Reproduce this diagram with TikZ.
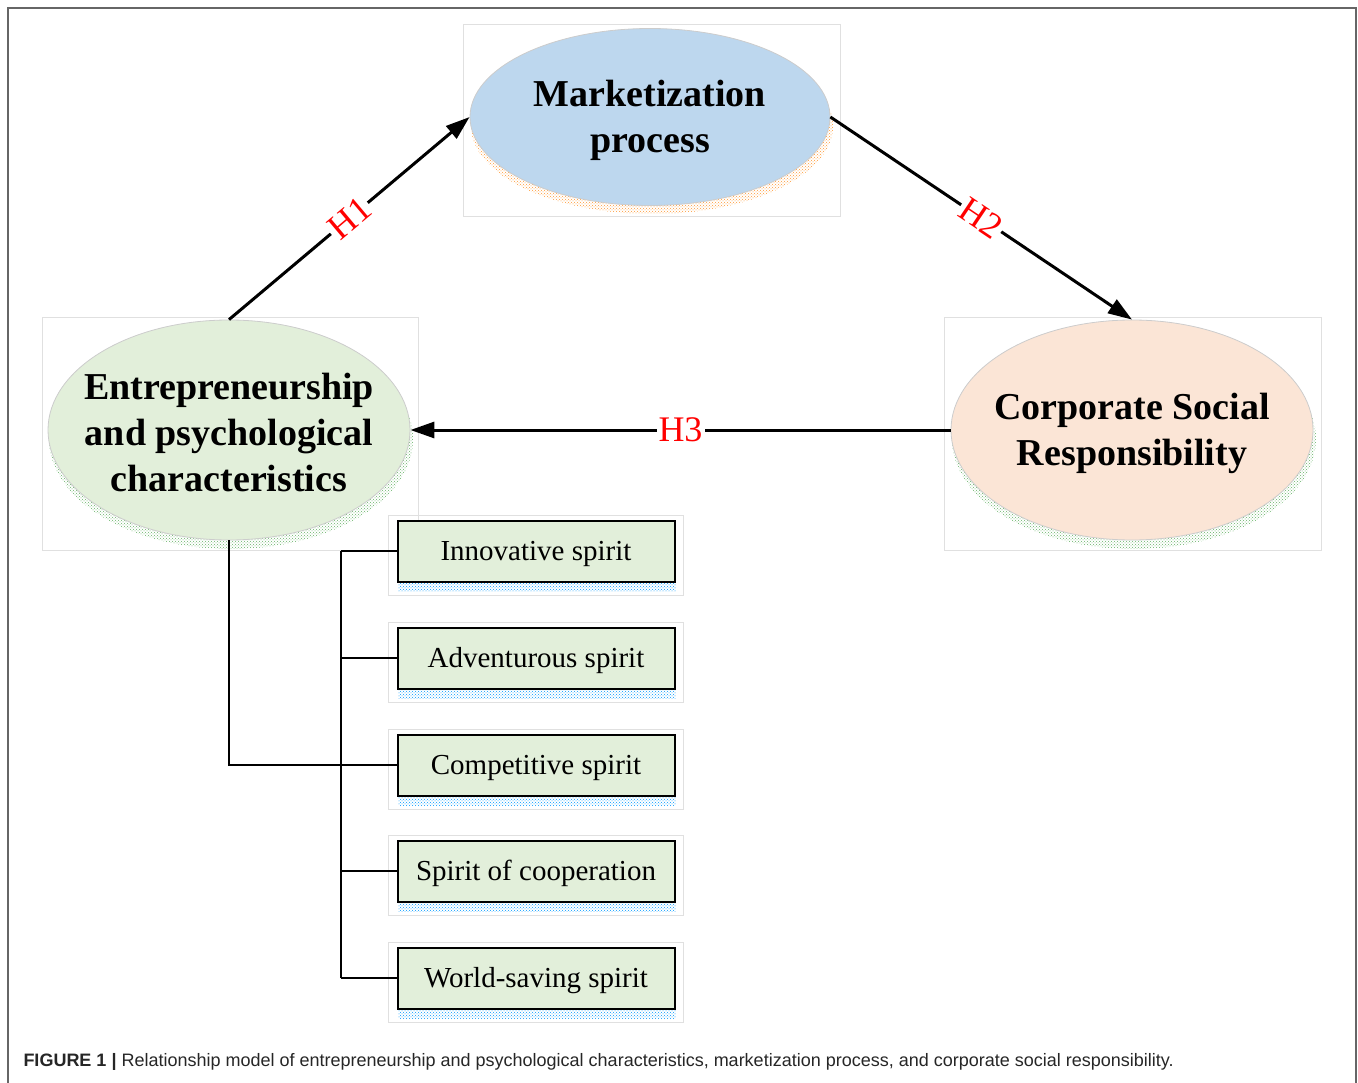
\documentclass[tikz,border=0pt]{standalone}
\usepackage{fontspec}
\setmainfont{Liberation Serif}
\newfontfamily\capfont{Liberation Sans}
\usetikzlibrary{shapes.geometric,arrows.meta,patterns}
\definecolor{mktblue}{RGB}{189,215,238}
\definecolor{entgreen}{RGB}{226,239,218}
\definecolor{csrpeach}{RGB}{251,229,214}
\definecolor{boxgreen}{RGB}{226,239,218}
\begin{document}
\begin{tikzpicture}
  [x=1pt,y={(0pt,-1pt)},line width=3pt,every node/.style={inner sep=0pt}]
  \tikzstyle{oval} = [ellipse,draw=black!20,line width=0.8pt,minimum width=362pt,minimum height=220pt]
  \tikzstyle{big} = [font=\fontsize{38}{46}\selectfont\bfseries,align=center,yshift=-3pt]
  \tikzstyle{trait} = [rectangle,draw=black,line width=2pt,fill=boxgreen,minimum width=277pt,minimum height=61pt,text height=24pt,text depth=5pt,font=\fontsize{29}{34}\selectfont]
  \tikzstyle{ghost} = [draw=black!12,line width=1pt]
  \tikzstyle{hyp} = [fill=white,text=red,font=\fontsize{36}{40}\selectfont,inner sep=2pt]
  \tikzstyle{link} = [-{Triangle[length=24pt,width=16pt]}]
  \useasboundingbox (0,0) rectangle (1358,1083);
  \draw[black!60,line width=2pt] (8,1083) -- (8,8) -- (1356,8) -- (1356,1083);
  % light frames and dotted shadows of the ovals
  \draw[ghost] (463,25) rectangle (840,217);
  \draw[ghost] (42,318) rectangle (418,550);
  \draw[ghost] (944,318) rectangle (1321,550);
  \fill[pattern=crosshatch dots,pattern color=orange!80] (652,126) ellipse (181 and 88);
  \fill[pattern=crosshatch dots,pattern color=green!50!black!60] (231,439) ellipse (182 and 110);
  \fill[pattern=crosshatch dots,pattern color=green!50!black!60] (1134,439) ellipse (182 and 110);
  % the three constructs
  \node (mkt) [oval,fill=mktblue,minimum width=360pt,minimum height=177pt] at (650,117) {};
  \node (ent) [oval,fill=entgreen] at (229,430) {};
  \node (csr) [oval,fill=csrpeach] at (1132,430) {};
  \node (mkttxt) [big] at (mkt) {Marketization\\process};
  \node (enttxt) [big] at (ent) {Entrepreneurship\\and psychological\\characteristics};
  \node (csrtxt) [big] at (csr) {Corporate Social\\Responsibility};
  % hypotheses
  \foreach \source /\dest /\hname in {ent.north/mkt.west/H1,mkt.east/csr.north/H2,csr.west/ent.east/H3}
   \draw[link] (\source) -- node[hyp,sloped] {\hname} (\dest);
  % dimensions
  \coordinate (bus) at (341,0);
  \foreach \i /\txt /\y in {1/Innovative spirit/551,2/Adventurous spirit/658,3/Competitive spirit/765,4/Spirit of cooperation/871,5/World-saving spirit/978} {
   \node (b\i) [trait] at (536,\y) {\txt};
   \fill[pattern=crosshatch dots,pattern color=blue!40!cyan] ([shift={(2,1)}]b\i.south west) rectangle ([shift={(0,9)}]b\i.south east);
   \draw[ghost] ([shift={(-8,-4)}]b\i.north west) rectangle ([shift={(8,13)}]b\i.south east);
   \draw[line width=2.5pt] (b\i.west) -- (b\i.west -| bus);
  }
  \draw[line width=2.5pt] (b1.west -| bus) -- (b5.west -| bus);
  \draw[line width=2.5pt] (ent.south) |- (b3.west -| bus);
  % caption
  \node (cap) [anchor=west,text=black!85,font=\capfont\fontsize{18}{20}\selectfont] at (22,1062)
   {\textbf{FIGURE 1 |} Relationship model of entrepreneurship and psychological characteristics, marketization process, and corporate social responsibility.};
\end{tikzpicture}
\end{document}
